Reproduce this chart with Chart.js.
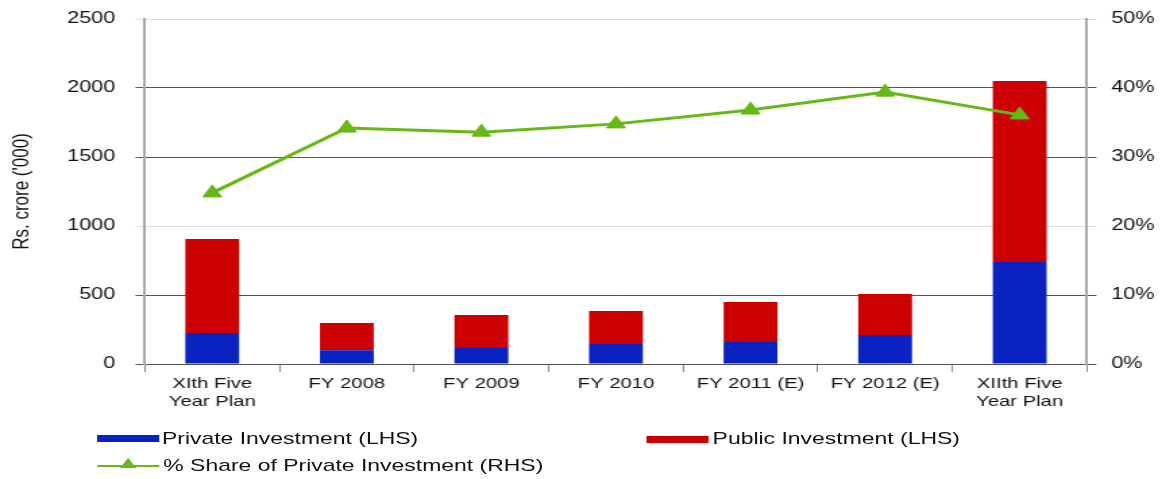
<!DOCTYPE html>
<html lang="en">
<head>
  <meta charset="UTF-8" />
  <title>Private and Public Investment</title>
  <script src="https://cdn.jsdelivr.net/npm/chart.js"></script>
  <style>
    body {
      margin: 0;
      background: #ffffff;
      overflow: hidden;
      font-family: "Liberation Sans", Arial, sans-serif;
    }
    /* the reference is a horizontally stretched picture, so draw narrow and stretch */
    #wrap {
      position: relative;
      width: 861px;
      height: 479px;
      transform: scaleX(1.3496);
      transform-origin: 0 0;
    }
    #chartBox {
      position: absolute;
      left: 0;
      top: 0;
      width: 861px;
      height: 479px;
    }
    .legend-item {
      position: absolute;
      font-size: 17px;
      color: #111;
      white-space: nowrap;
      line-height: 20px;
    }
    .swatch {
      position: absolute;
      width: 46px;
      height: 7px;
    }
    .legline {
      position: absolute;
      width: 46px;
      height: 2px;
      background: #66b814;
    }
    .tri {
      position: absolute;
      width: 0;
      height: 0;
      border-left: 6px solid transparent;
      border-right: 6px solid transparent;
      border-bottom: 10px solid #66b814;
    }
  </style>
</head>
<body>
  <div id="wrap">
    <div id="chartBox">
      <canvas id="investChart"></canvas>
    </div>

    <div class="swatch" style="left:72px; top:435px; background:#0a22c0;"></div>
    <div class="legend-item" style="left:120px; top:429px;">Private Investment (LHS)</div>

    <div class="swatch" style="left:479px; top:436px; background:#cc0000;"></div>
    <div class="legend-item" style="left:528px; top:429px;">Public Investment (LHS)</div>

    <div class="legline" style="left:72px; top:465px;"></div>
    <div class="tri" style="left:89px; top:458px;"></div>
    <div class="legend-item" style="left:121px; top:456px;">% Share of Private Investment (RHS)</div>
  </div>

  <script>
    const categories = [
      ['XIth Five', 'Year Plan'],
      'FY 2008',
      'FY 2009',
      'FY 2010',
      'FY 2011 (E)',
      'FY 2012 (E)',
      ['XIIth Five', 'Year Plan']
    ];
    const privateInvestment = [225, 100, 116, 145, 160, 210, 740];
    const publicInvestment = [680, 198, 239, 239, 289, 297, 1311];
    const privateShare = [24.8, 34.2, 33.6, 34.8, 36.8, 39.4, 36.1];

    const leftTicks = [0, 500, 1000, 1500, 2000, 2500];
    const rightTicks = [0, 10, 20, 30, 40, 50];

    const fontFamily = '"Liberation Sans", Arial, sans-serif';
    const green = '#66b814';

    // some gridlines come out faint in the original
    function lineColor(ctx) {
      const v = ctx.tick ? ctx.tick.value : 0;
      if (v === 1000 || v === 2500 || v === 20 || v === 50) return '#dddddd';
      return '#555555';
    }

    const ctx = document.getElementById('investChart').getContext('2d');
    const investChart = new Chart(ctx, {
      data: {
        labels: categories,
        datasets: [
          {
            type: 'line',
            label: '% Share of Private Investment (RHS)',
            data: privateShare,
            yAxisID: 'y1',
            borderColor: green,
            backgroundColor: green,
            borderWidth: 3,
            pointStyle: 'triangle',
            pointRadius: 8,
            pointHoverRadius: 8,
            pointBorderWidth: 1,
            tension: 0,
            order: 0
          },
          {
            type: 'bar',
            label: 'Private Investment (LHS)',
            data: privateInvestment,
            yAxisID: 'y',
            backgroundColor: '#0a22c0',
            categoryPercentage: 0.8,
            barPercentage: 0.5,
            order: 1
          },
          {
            type: 'bar',
            label: 'Public Investment (LHS)',
            data: publicInvestment,
            yAxisID: 'y',
            backgroundColor: '#cc0000',
            categoryPercentage: 0.8,
            barPercentage: 0.5,
            order: 2
          }
        ]
      },
      options: {
        responsive: true,
        maintainAspectRatio: false,
        animation: false,
        layout: {
          padding: { top: 19, left: 0, right: 0, bottom: 0 }
        },
        plugins: {
          legend: { display: false },
          tooltip: { enabled: false }
        },
        scales: {
          x: {
            stacked: true,
            grid: {
              offset: true,
              drawOnChartArea: false,
              tickLength: 8,
              color: '#888888'
            },
            border: { color: '#555555', width: 1 },
            ticks: {
              autoSkip: false,
              maxRotation: 0,
              padding: 3,
              color: '#111',
              font: { family: fontFamily, size: 15 }
            },
            afterFit: function(scale) { scale.height = 115; }
          },
          y: {
            stacked: true,
            position: 'left',
            min: 0,
            max: 2500,
            afterBuildTicks: function(scale) {
              scale.ticks = leftTicks.map(v => ({ value: v }));
            },
            grid: {
              color: lineColor,
              tickLength: 7
            },
            border: { color: '#aaaaaa', width: 2 },
            ticks: {
              padding: 15,
              color: '#111',
              font: { family: fontFamily, size: 16, lineHeight: 0.25 },
              callback: function(value) { return String(value); }
            },
            title: {
              display: true,
              text: "Rs. crore ('000)",
              color: '#111',
              padding: { top: 6, bottom: 4 },
              font: { family: fontFamily, size: 17 }
            },
            afterFit: function(scale) { scale.width = 107.4; }
          },
          y1: {
            position: 'right',
            min: 0,
            max: 50,
            afterBuildTicks: function(scale) {
              scale.ticks = rightTicks.map(v => ({ value: v }));
            },
            grid: {
              drawOnChartArea: false,
              color: lineColor,
              tickLength: 7
            },
            border: { color: '#aaaaaa', width: 2 },
            ticks: {
              padding: 11,
              color: '#111',
              font: { family: fontFamily, size: 16, lineHeight: 0.25 },
              callback: function(value) { return value + '%'; }
            },
            afterFit: function(scale) { scale.width = 55.6; }
          }
        }
      }
    });
  </script>
</body>
</html>
